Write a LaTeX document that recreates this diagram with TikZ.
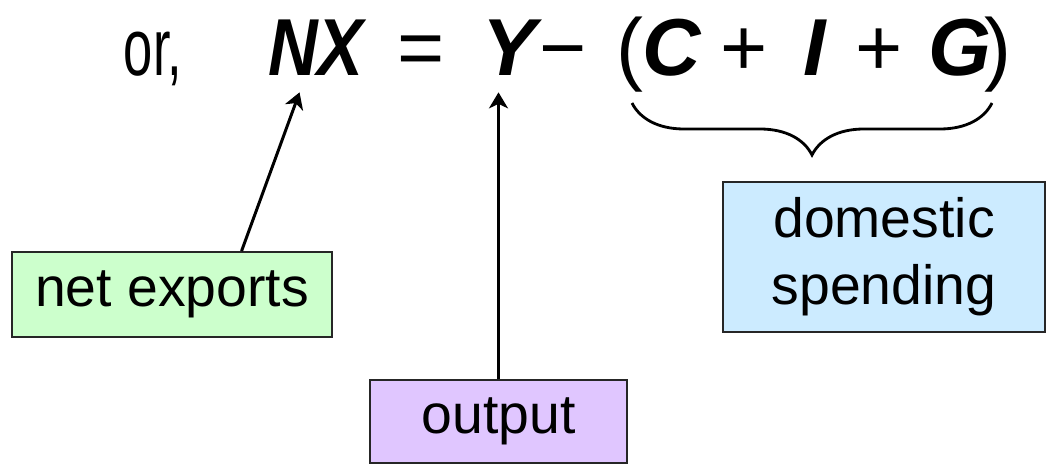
\documentclass[tikz,border=0pt]{standalone}
\usepackage{fontspec}
\setmainfont{Liberation Sans}
\usetikzlibrary{positioning, arrows.meta, calc, decorations.pathreplacing}
\definecolor{netgreen}{HTML}{CCFFCC}
\definecolor{outlilac}{HTML}{E0C6FF}
\definecolor{domblue}{HTML}{CCEBFF}
\newcommand{\lblsize}{\fontsize{31.5}{38}\selectfont}
\newcommand{\eqsize}{\fontsize{46}{50}\selectfont}
\tikzset{
>={Stealth[length=0.32cm, width=0.38cm, inset=0.09cm]},
box/.style={draw=black!85, line width=1.1pt, inner sep=0pt, font=\lblsize, align=center}, % coloured label boxes
sym/.style={inner xsep=0pt, inner ysep=0.34cm, anchor=base, font=\eqsize}, % one piece of the equation
var/.style={sym, font=\eqsize\bfseries\itshape},
arr/.style={->, line width=1.7pt},
curly/.style={decorate, decoration={brace, mirror, amplitude=1.04cm}, line width=1.6pt},
}

\begin{document}
\begin{tikzpicture}[x=0.02cm, y=-0.02cm]
\useasboundingbox (0,0) rectangle (1050,470);
% the equation
\node[sym] (or) at (153,75) {\scalebox{0.65}[1]{or,}};
\node[var] (nx) at (316,75) {\scalebox{0.85}[1]{NX}};
\node[sym] (eq) at (421,75) {=};
\node[var] (y) at (509,75) {Y};
\node[sym] (minus) at (563,75) {−};
\node[sym] (lp) at (630,75) {(};
\node[var] (c) at (672,75) {C};
\node[sym] (p1) at (744,75) {+};
\node[var] (i) at (815,75) {I};
\node[sym] (p2) at (879,75) {+};
\node[var] (g) at (960,75) {G};
\node[sym] (rp) at (998,75) {)};
% the labels
\node[box, fill=netgreen, minimum width=6.4cm, minimum height=1.7cm] (netx) at (172,294.5) {net exports};
\node[box, fill=outlilac, minimum width=5.14cm, minimum height=1.66cm] (outp) at (498.5,421.5) {output};
\node[box, fill=domblue, minimum width=6.44cm, minimum height=3cm] (dom) at (884,257) {domestic\\spending};
\draw[arr] (netx.32) -- (nx);
\draw[arr] (outp) -- (outp |- y.south);
\draw[curly] ($(lp.base)+(2,28)$) -- ($(rp.base)+(-6,28)$);

\end{tikzpicture}
\end{document}
